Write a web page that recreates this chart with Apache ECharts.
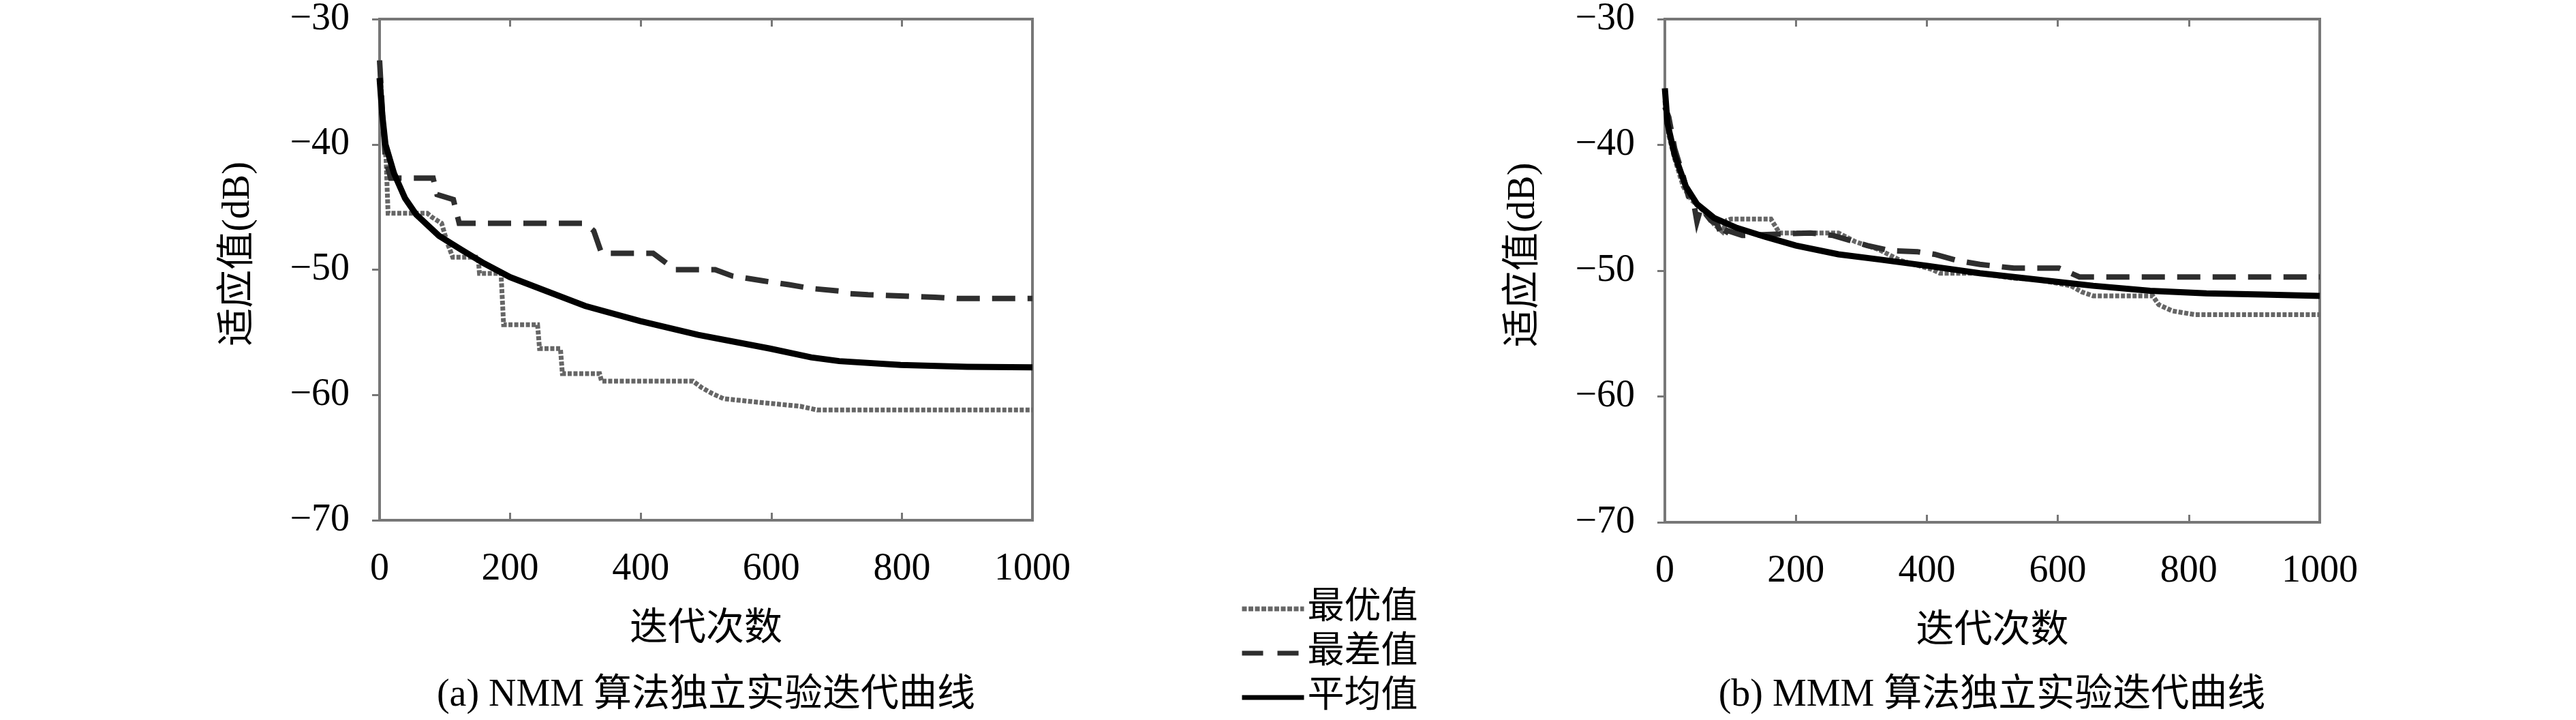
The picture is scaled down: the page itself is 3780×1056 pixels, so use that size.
<!DOCTYPE html>
<html><head><meta charset="utf-8">
<script src="https://cdn.jsdelivr.net/npm/echarts@6/dist/echarts.min.js"></script>
<style>html,body{margin:0;padding:0;background:#fff}#c{width:3780px;height:1056px}</style>
</head><body><div id="c"></div>
<script>
// ---- data ----
const xTickStep = 200;           // iterations axis: 0..1000
const yTickStep = 10;            // fitness axis: -70..-30 dB
const seriesNames = ['最优值', '最差值', '平均值'];
const panelTitles = ['(a) NMM 算法独立实验迭代曲线', '(b) MMM 算法独立实验迭代曲线'];
const xName = '迭代次数';
const yName = '适应值(dB)';

// (a) NMM
const bestA_x  = [0,6,10,13,73,80,95,104,112,151,153,186,190,242,245,277,280,337,340,480,493,510,527,583,644,670,1000];
const bestA_y  = [-33.3,-39.0,-41.2,-45.5,-45.5,-45.8,-46.3,-47.9,-49.0,-49.0,-50.3,-50.3,-54.4,-54.4,-56.3,-56.3,-58.3,-58.3,-58.9,-58.9,-59.4,-59.9,-60.3,-60.6,-60.9,-61.2,-61.2];
const worstA_x = [0,6,9,17,82,88,113,122,315,328,340,346,419,445,450,514,540,588,627,661,704,717,748,851,886,1000];
const worstA_y = [-33.3,-39.0,-41.2,-42.7,-42.7,-44.0,-44.4,-46.3,-46.3,-46.9,-48.7,-48.7,-48.7,-49.7,-50.0,-50.0,-50.5,-50.9,-51.2,-51.5,-51.7,-51.9,-52.0,-52.2,-52.3,-52.3];
const meanA_x  = [0,4,9,22,39,56,91,125,160,200,255,315,399,488,598,661,704,798,900,1000];
const meanA_y  = [-34.7,-37.6,-40.0,-42.3,-44.3,-45.6,-47.3,-48.4,-49.5,-50.6,-51.7,-52.9,-54.1,-55.2,-56.3,-57.0,-57.3,-57.6,-57.75,-57.8];

// (b) MMM
const bestB_x  = [0,6,15,28,41,58,75,88,95,101,162,175,265,291,326,360,408,420,481,533,568,620,637,654,745,754,775,810,1000];
const bestB_y  = [-36.5,-39.2,-41.1,-43.3,-44.4,-45.2,-46.3,-46.9,-46.0,-45.9,-45.9,-47.0,-47.0,-47.7,-48.3,-49.2,-49.9,-50.2,-50.2,-50.6,-50.7,-51.2,-51.7,-52.0,-52.0,-52.7,-53.2,-53.5,-53.5];
const worstB_x = [0,6,15,28,36,44,49,55,70,80,88,95,118,222,257,309,343,386,412,447,481,533,602,620,633,1000];
const worstB_y = [-37.0,-37.8,-40.3,-42.5,-44.1,-44.6,-46.1,-45.0,-46.0,-46.3,-47.4,-46.8,-47.2,-47.0,-47.2,-48.0,-48.4,-48.5,-48.7,-49.2,-49.5,-49.8,-49.8,-50.2,-50.5,-50.5];
const meanB_x  = [0,4,15,32,49,75,110,153,200,265,326,399,481,568,654,741,827,914,1000];
const meanB_y  = [-35.5,-38.3,-40.8,-43.3,-44.7,-45.8,-46.6,-47.3,-48.0,-48.7,-49.1,-49.6,-50.2,-50.7,-51.2,-51.6,-51.8,-51.9,-52.0];

// ---- chart ----
const zip = (xs, ys) => xs.map((x, i) => [x, ys[i]]);
const FONT_LAT = '"Liberation Serif", "DejaVu Serif", serif';
const FONT_MIX = '"Liberation Serif", "Noto Sans CJK SC", serif';
const AX_COLOR = '#777';

const grids = [
  { left: 557, top: 28, width: 958, height: 735 },
  { left: 2443, top: 24, width: 961, height: 742 }
];

const xAxes = [], yAxes = [];
grids.forEach((g, gi) => {
  const tick = { show: true, inside: true, length: 11, lineStyle: { color: AX_COLOR, width: 3 } };
  xAxes.push({
    gridIndex: gi, type: 'value', position: 'bottom', min: 0, max: 1000, interval: xTickStep,
    axisLine: { show: false }, splitLine: { show: false }, axisTick: tick,
    axisLabel: { margin: 44, color: '#000', fontFamily: FONT_LAT, fontSize: 56, formatter: v => String(v) },
    name: xName, nameLocation: 'middle', nameGap: 132,
    nameTextStyle: { color: '#000', fontFamily: FONT_MIX, fontSize: 56 }
  });
  xAxes.push({
    gridIndex: gi, type: 'value', position: 'top', min: 0, max: 1000, interval: xTickStep,
    axisLine: { show: false }, splitLine: { show: false }, axisTick: tick, axisLabel: { show: false }
  });
  yAxes.push({
    gridIndex: gi, type: 'value', position: 'left', min: -70, max: -30, interval: yTickStep,
    axisLine: { show: false }, splitLine: { show: false }, axisTick: { show: false },
    axisLabel: { margin: 44, color: '#000', fontFamily: FONT_LAT, fontSize: 56,
                 formatter: v => String(v).replace('-', '\u2212') },
    name: yName, nameLocation: 'middle', nameGap: 179,
    nameTextStyle: { color: '#000', fontFamily: FONT_MIX, fontSize: 56, padding: [0, 0, 0, 46] }
  });
  yAxes.push({
    gridIndex: gi, type: 'value', position: 'right', min: -70, max: -30, interval: yTickStep,
    axisLine: { show: false }, splitLine: { show: false }, axisTick: tick, axisLabel: { show: false }
  });
});

const styles = [
  { color: '#666666', width: 7, type: [6, 2.5] },
  { color: '#2e2e2e', width: 8, type: [34, 18] },
  { color: '#000000', width: 9, type: 'solid' }
];
const panelData = [
  [zip(bestA_x, bestA_y), zip(worstA_x, worstA_y), zip(meanA_x, meanA_y)],
  [zip(bestB_x, bestB_y), zip(worstB_x, worstB_y), zip(meanB_x, meanB_y)]
];
const series = [];
panelData.forEach((arr, gi) => {
  arr.forEach((d, si) => {
    series.push({
      type: 'line', name: seriesNames[si], data: d,
      xAxisIndex: gi * 2, yAxisIndex: gi * 2,
      symbol: 'none', smooth: false, animation: false, z: 2 + si,
      lineStyle: Object.assign({ cap: 'butt', join: 'miter' }, styles[si]),
      itemStyle: { color: styles[si].color }
    });
  });
});

const legendStyles = [
  { color: '#666666', width: 7, type: [7, 2.5], cap: 'butt' },
  { color: '#2e2e2e', width: 7, type: [31, 21], cap: 'butt' },
  { color: '#000000', width: 7, type: 'solid', cap: 'butt' }
];

const chart = echarts.init(document.getElementById('c'), null, { renderer: 'canvas' });
chart.setOption({
  backgroundColor: '#fff',
  animation: false,
  grid: grids.map(g => Object.assign({ show: true, borderColor: AX_COLOR, borderWidth: 4, backgroundColor: 'transparent' }, g)),
  xAxis: xAxes,
  yAxis: yAxes,
  legend: {
    orient: 'vertical', left: 1819, top: 865, height: 191, padding: 0,
    itemWidth: 91, itemHeight: 14, itemGap: 9,
    data: seriesNames.map((n, i) => ({ name: n, lineStyle: legendStyles[i], itemStyle: { opacity: 0 } })),
    textStyle: { color: '#000', fontFamily: FONT_MIX, fontSize: 54, lineHeight: 56, padding: [0, 0, 0, 0] }
  },
  graphic: [
    { type: 'text', x: 1036, y: 1020, style: { text: panelTitles[0], align: 'center', verticalAlign: 'middle', font: '56px ' + FONT_MIX, fill: '#000' } },
    { type: 'text', x: 2923, y: 1020, style: { text: panelTitles[1], align: 'center', verticalAlign: 'middle', font: '56px ' + FONT_MIX, fill: '#000' } }
  ],
  series: series
});
</script></body></html>
